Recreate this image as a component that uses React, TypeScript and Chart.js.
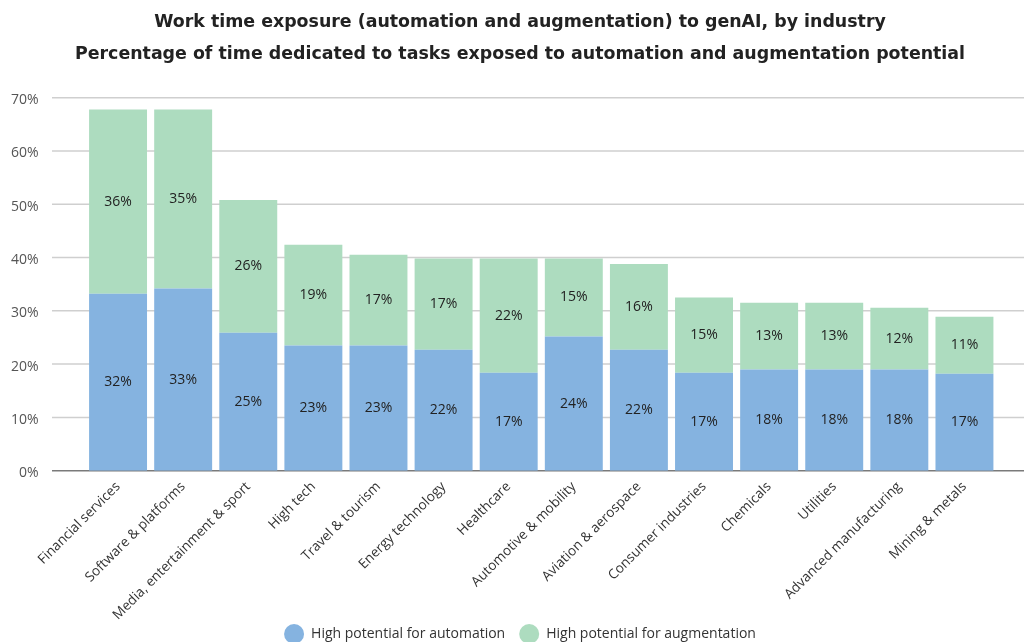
import React, { useEffect, useRef } from "react";
import { Chart, registerables } from "chart.js";

Chart.register(...registerables);

const industries = [
  "Financial services",
  "Software & platforms",
  "Media, entertainment & sport",
  "High tech",
  "Travel & tourism",
  "Energy technology",
  "Healthcare",
  "Automotive & mobility",
  "Aviation & aerospace",
  "Consumer industries",
  "Chemicals",
  "Utilities",
  "Advanced manufacturing",
  "Mining & metals",
];

// bar heights as drawn in the reference
const automationValues = [33.2, 34.2, 25.9, 23.5, 23.5, 22.7, 18.4, 25.2, 22.7, 18.4, 19.0, 19.0, 19.0, 18.2];
const augmentationValues = [34.6, 33.6, 24.9, 18.9, 17.0, 17.1, 21.4, 14.6, 16.1, 14.1, 12.5, 12.5, 11.6, 10.7];

// printed value labels
const automationLabels = ["32%", "33%", "25%", "23%", "23%", "22%", "17%", "24%", "22%", "17%", "18%", "18%", "18%", "17%"];
const augmentationLabels = ["36%", "35%", "26%", "19%", "17%", "17%", "22%", "15%", "16%", "15%", "13%", "13%", "12%", "11%"];

const titleLine1 = "Work time exposure (automation and augmentation) to genAI, by industry";
const titleLine2 = "Percentage of time dedicated to tasks exposed to automation and augmentation potential";
const seriesNames = ["High potential for automation", "High potential for augmentation"];

const yMin = 0;
const yMax = 70;
const yStep = 10;

const BLUE = "#85b3e0";
const GREEN = "#addcbf";
const FONT = "'Open Sans', 'Noto Sans', sans-serif";
const TITLE_FONT = "'DejaVu Sans', 'Open Sans', sans-serif";

const gridPlugin = {
  id: "extendedGrid",
  beforeDatasetsDraw(chart: any) {
    const { ctx, chartArea } = chart;
    const y = chart.scales.y;
    ctx.save();
    y.ticks.forEach((t: any) => {
      const py = y.getPixelForValue(t.value);
      ctx.beginPath();
      ctx.strokeStyle = t.value === 0 ? "#7a7a7a" : "#cfcfcf";
      ctx.lineWidth = 1.5;
      ctx.moveTo(chartArea.left - 33.5, py);
      ctx.lineTo(chart.width, py);
      ctx.stroke();
    });
    ctx.restore();
  },
};

const labelPlugin = {
  id: "segmentLabels",
  afterDatasetsDraw(chart: any) {
    const { ctx } = chart;
    const labelSets = [automationLabels, augmentationLabels];
    ctx.save();
    ctx.font = `14px ${FONT}`;
    ctx.fillStyle = "#222";
    ctx.textAlign = "center";
    ctx.textBaseline = "middle";
    chart.data.datasets.forEach((_ds: any, di: number) => {
      const meta = chart.getDatasetMeta(di);
      meta.data.forEach((bar: any, i: number) => {
        const { x, y, base } = bar.getProps(["x", "y", "base"], true);
        ctx.fillText(labelSets[di][i], x, (y + base) / 2);
      });
    });
    ctx.restore();
  },
};

export default function App() {
  const canvasRef = useRef<HTMLCanvasElement | null>(null);

  useEffect(() => {
    if (!canvasRef.current) return;
    const chart = new Chart(canvasRef.current, {
      type: "bar",
      data: {
        labels: industries,
        datasets: [
          {
            label: seriesNames[0],
            data: automationValues,
            backgroundColor: BLUE,
            borderWidth: 0,
            barPercentage: 0.89,
            categoryPercentage: 1,
            yAxisID: "y",
          },
          {
            label: seriesNames[1],
            data: augmentationValues,
            backgroundColor: GREEN,
            borderWidth: 0,
            barPercentage: 0.89,
            categoryPercentage: 1,
            yAxisID: "y",
          },
        ],
      },
      options: {
        animation: false,
        responsive: false,
        maintainAspectRatio: false,
        layout: { padding: { left: 0, right: 0, top: 0, bottom: 0 } },
        plugins: {
          title: {
            display: true,
            text: titleLine1,
            color: "#222",
            font: { family: TITLE_FONT, size: 17.4, weight: "bold" },
            padding: { top: 12, bottom: 0 },
          },
          subtitle: {
            display: true,
            text: titleLine2,
            color: "#222",
            font: { family: TITLE_FONT, size: 17.4, weight: "bold" },
            padding: { top: 11.5, bottom: 32.4 },
          },
          legend: {
            display: true,
            position: "bottom",
            labels: {
              usePointStyle: true,
              pointStyle: "circle",
              pointStyleWidth: 20,
              color: "#333",
              font: { family: FONT, size: 14 },
              padding: 14,
            },
          },
          tooltip: { enabled: false },
        },
        scales: {
          x: {
            stacked: true,
            grid: { display: false },
            border: { display: false },
            ticks: {
              autoSkip: false,
              maxRotation: 45,
              minRotation: 45,
              color: "#333",
              font: { family: FONT, size: 13.6 },
              padding: 0,
            },
            afterFit: (s: any) => {
              s.height = 142.3;
            },
            afterUpdate: (s: any) => {
              // let the long rotated labels run past the axis box, as in the reference
              s._computeLabelArea = () => undefined;
            },
          },
          y: {
            stacked: true,
            min: yMin,
            max: yMax,
            grid: { display: false, drawTicks: false },
            border: { display: false },
            ticks: {
              stepSize: yStep,
              color: "#555",
              font: { family: FONT, size: 14 },
              padding: 47,
              labelOffset: 2.5,
              callback: (v: any) => `${v}%`,
            },
            afterFit: (s: any) => {
              s.width = 85.5;
            },
          },
          yRight: {
            position: "right",
            display: true,
            grid: { display: false, drawTicks: false },
            border: { display: false },
            ticks: { display: false },
            afterFit: (s: any) => {
              s.width = 43;
            },
          },
        },
      },
      plugins: [gridPlugin, labelPlugin],
    });
    return () => chart.destroy();
  }, []);

  return (
    <div style={{ position: "fixed", left: 0, top: 0, width: 1024, height: 642, overflow: "hidden", background: "#fff" }}>
      <canvas ref={canvasRef} width={1040} height={651} style={{ display: "block" }} />
    </div>
  );
}
